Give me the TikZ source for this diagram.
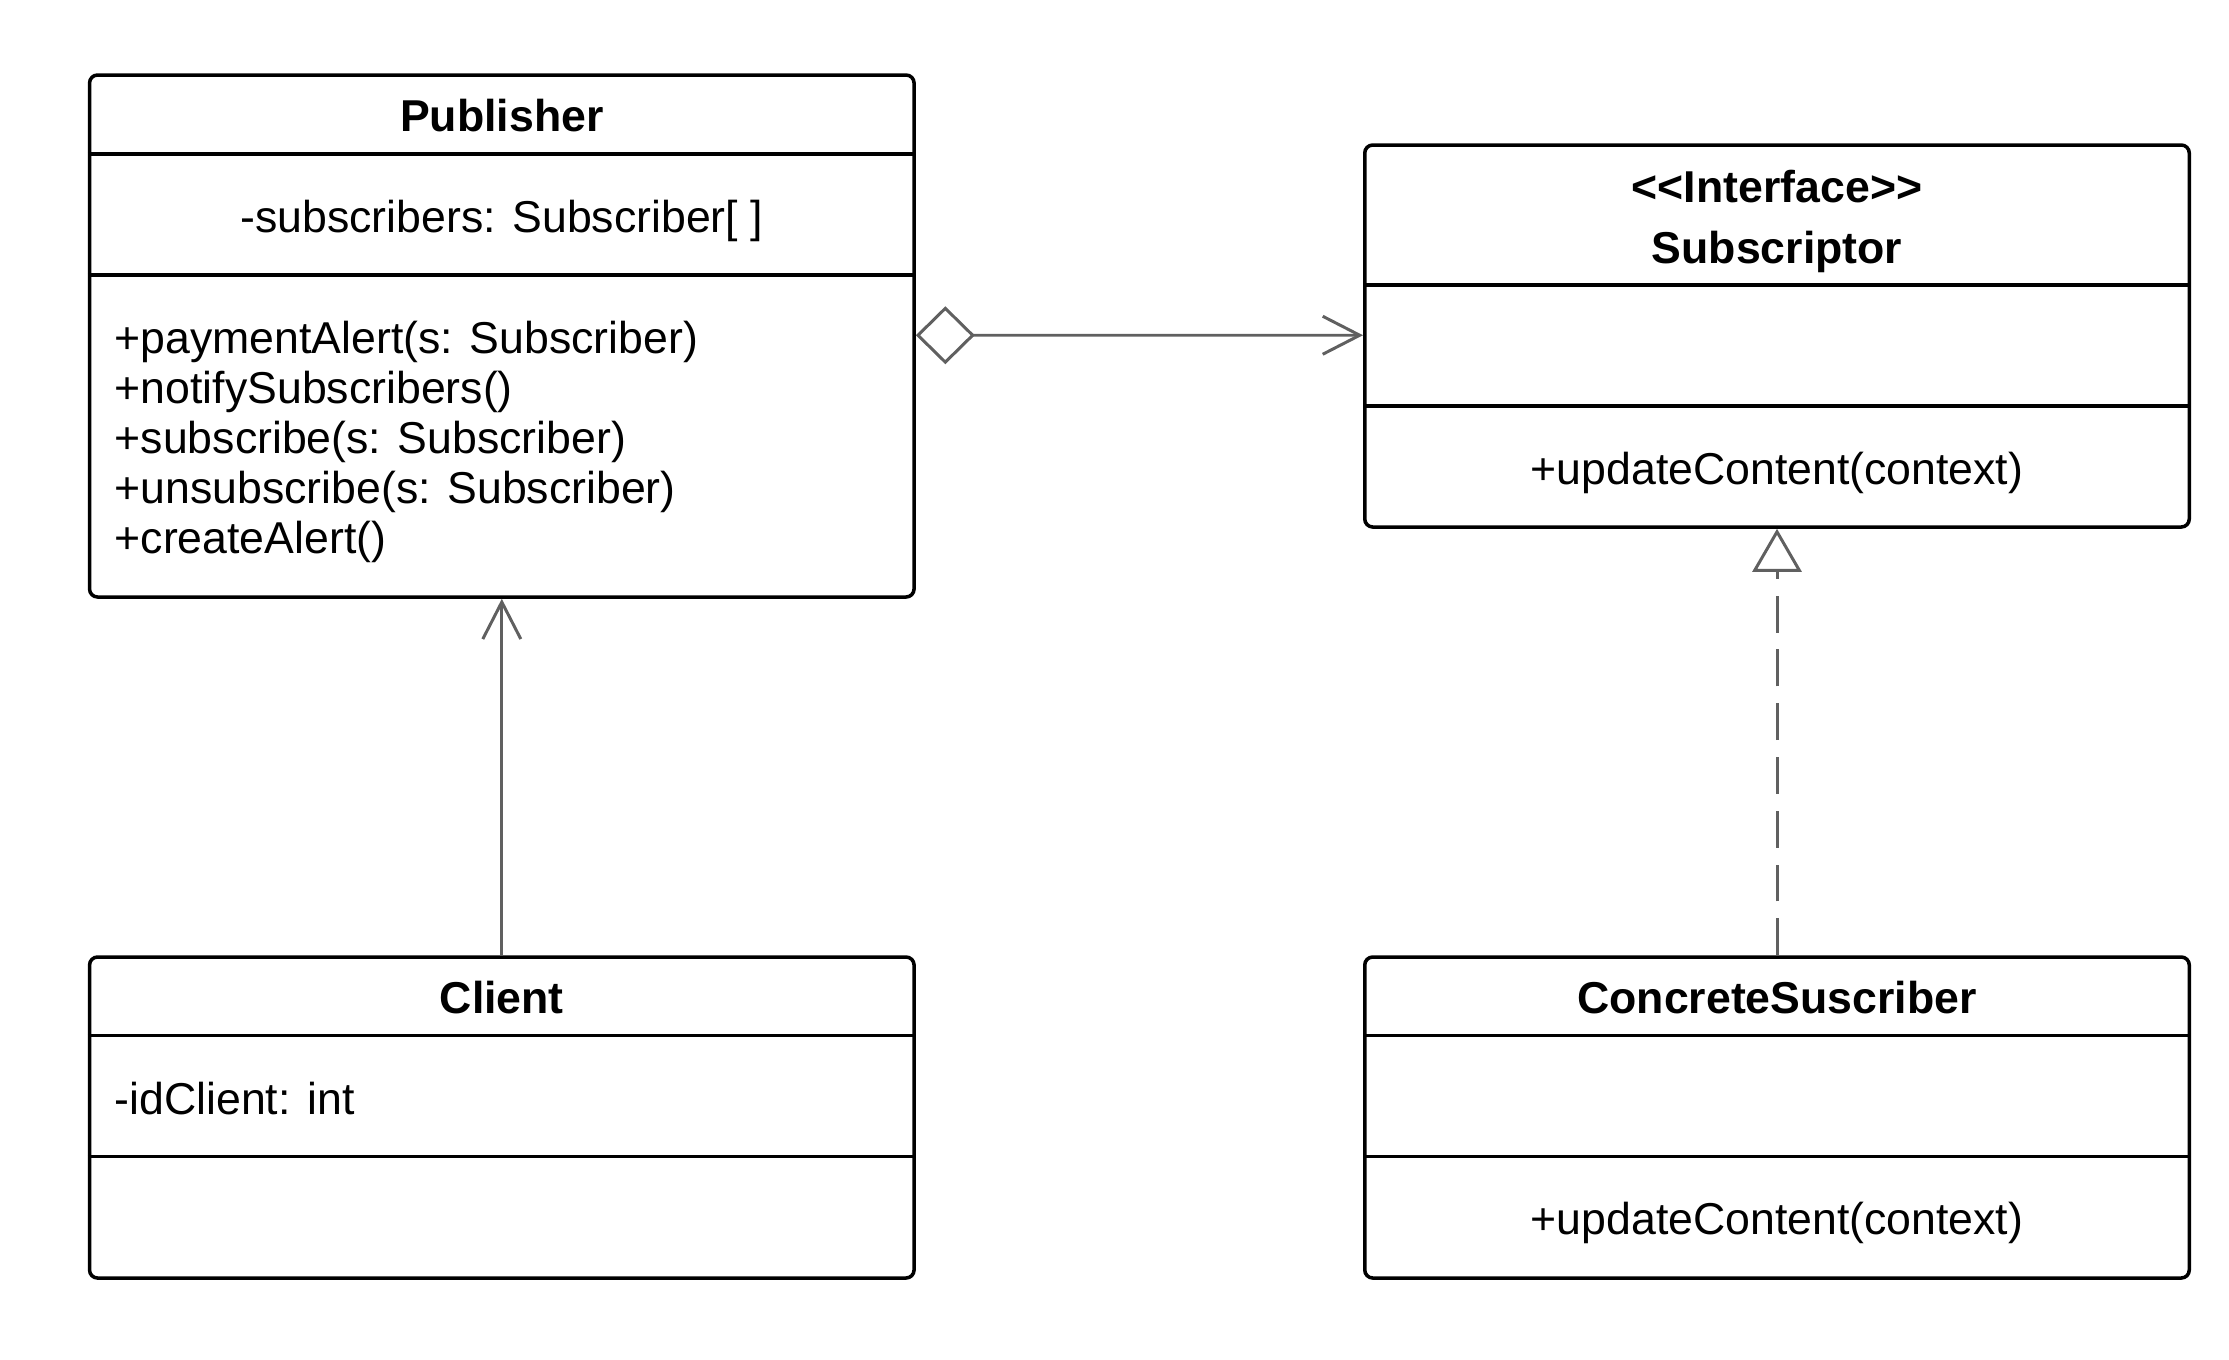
\documentclass[tikz,border=0pt]{standalone}
\usepackage{fontspec}
\setmainfont{Liberation Sans}
\usetikzlibrary{arrows.meta}
\definecolor{linkgray}{HTML}{606060}
\tikzset{
  classbox/.style = {draw, line width=1pt, rounded corners=0.8mm, inner sep=0pt, minimum width=8.245cm},
  sepline/.style = {line width=1pt},
  txt/.style = {inner sep=0pt, font=\fontsize{12.7}{14.2}\selectfont},
  ttl/.style = {inner sep=0pt, font=\fontsize{12.7}{17.3}\selectfont\bfseries, align=center},
  link/.style = {draw=linkgray, line width=0.85pt},
  openhead/.style = {-{Straight Barb[length=0.37cm, width=0.38cm]}},
}

\begin{document}
\begin{tikzpicture}
      \useasboundingbox (0, 0) rectangle (22.29, -13.59);

      \node[classbox, minimum height=5.22cm] (pub) at (5.018, -3.36) {};
      \node[classbox, minimum height=3.82cm] (sub) at (17.77, -3.36) {};
      \node[classbox, minimum height=3.21cm] (cli) at (5.018, -11.175) {};
      \node[classbox, minimum height=3.21cm] (con) at (17.77, -11.175) {};

      \draw[sepline] ([yshift=-0.81cm]pub.north west) -- ([yshift=-0.81cm]pub.north east);
      \draw[sepline] ([yshift=-2.02cm]pub.north west) -- ([yshift=-2.02cm]pub.north east);
      \draw[sepline] ([yshift=-1.42cm]sub.north west) -- ([yshift=-1.42cm]sub.north east);
      \draw[sepline] ([yshift=-2.63cm]sub.north west) -- ([yshift=-2.63cm]sub.north east);
      \draw[sepline] ([yshift=-0.80cm]cli.north west) -- ([yshift=-0.80cm]cli.north east);
      \draw[sepline] ([yshift=-2.01cm]cli.north west) -- ([yshift=-2.01cm]cli.north east);
      \draw[sepline] ([yshift=-0.80cm]con.north west) -- ([yshift=-0.80cm]con.north east);
      \draw[sepline] ([yshift=-2.01cm]con.north west) -- ([yshift=-2.01cm]con.north east);

      \node[ttl] (pubT) at (5.018, -1.16) {Publisher};
      \node[txt] (pubA) at (5.018, -2.21) {-subscribers: Subscriber[ ]};
      \node[txt, anchor=west, align=left] (pubM) at (1.14, -4.42)
        {+paymentAlert(s: Subscriber)\\+notifySubscribers()\\+subscribe(s: Subscriber)\\+unsubscribe(s: Subscriber)\\+createAlert()};

      \node[ttl] (subT) at (17.77, -2.215) {<{}<Interface>{}>\\Subscriptor};
      \node[txt] (subM) at (17.77, -4.73) {+updateContent(context)};

      \node[ttl] (cliT) at (5.018, -9.98) {Client};
      \node[txt, anchor=west] (cliA) at (1.14, -10.99) {-idClient: int};

      \node[ttl] (conT) at (17.77, -9.98) {ConcreteSuscriber};
      \node[txt] (conM) at (17.77, -12.23) {+updateContent(context)};

      \draw[link, {Diamond[open, length=0.59cm, width=0.58cm, fill=white]}-{Straight Barb[length=0.37cm, width=0.38cm]}]
        ([yshift=-2.62cm]pub.north east) -- ([yshift=-1.92cm]sub.north west);
      \draw[link, openhead] (cli.north) -- (pub.south);
      \draw[link, dash pattern=on 10.5pt off 4.8pt, -{Triangle[open, length=0.43cm, width=0.49cm, fill=white]}]
        (con.north) -- (sub.south);
    \end{tikzpicture}
\end{document}
